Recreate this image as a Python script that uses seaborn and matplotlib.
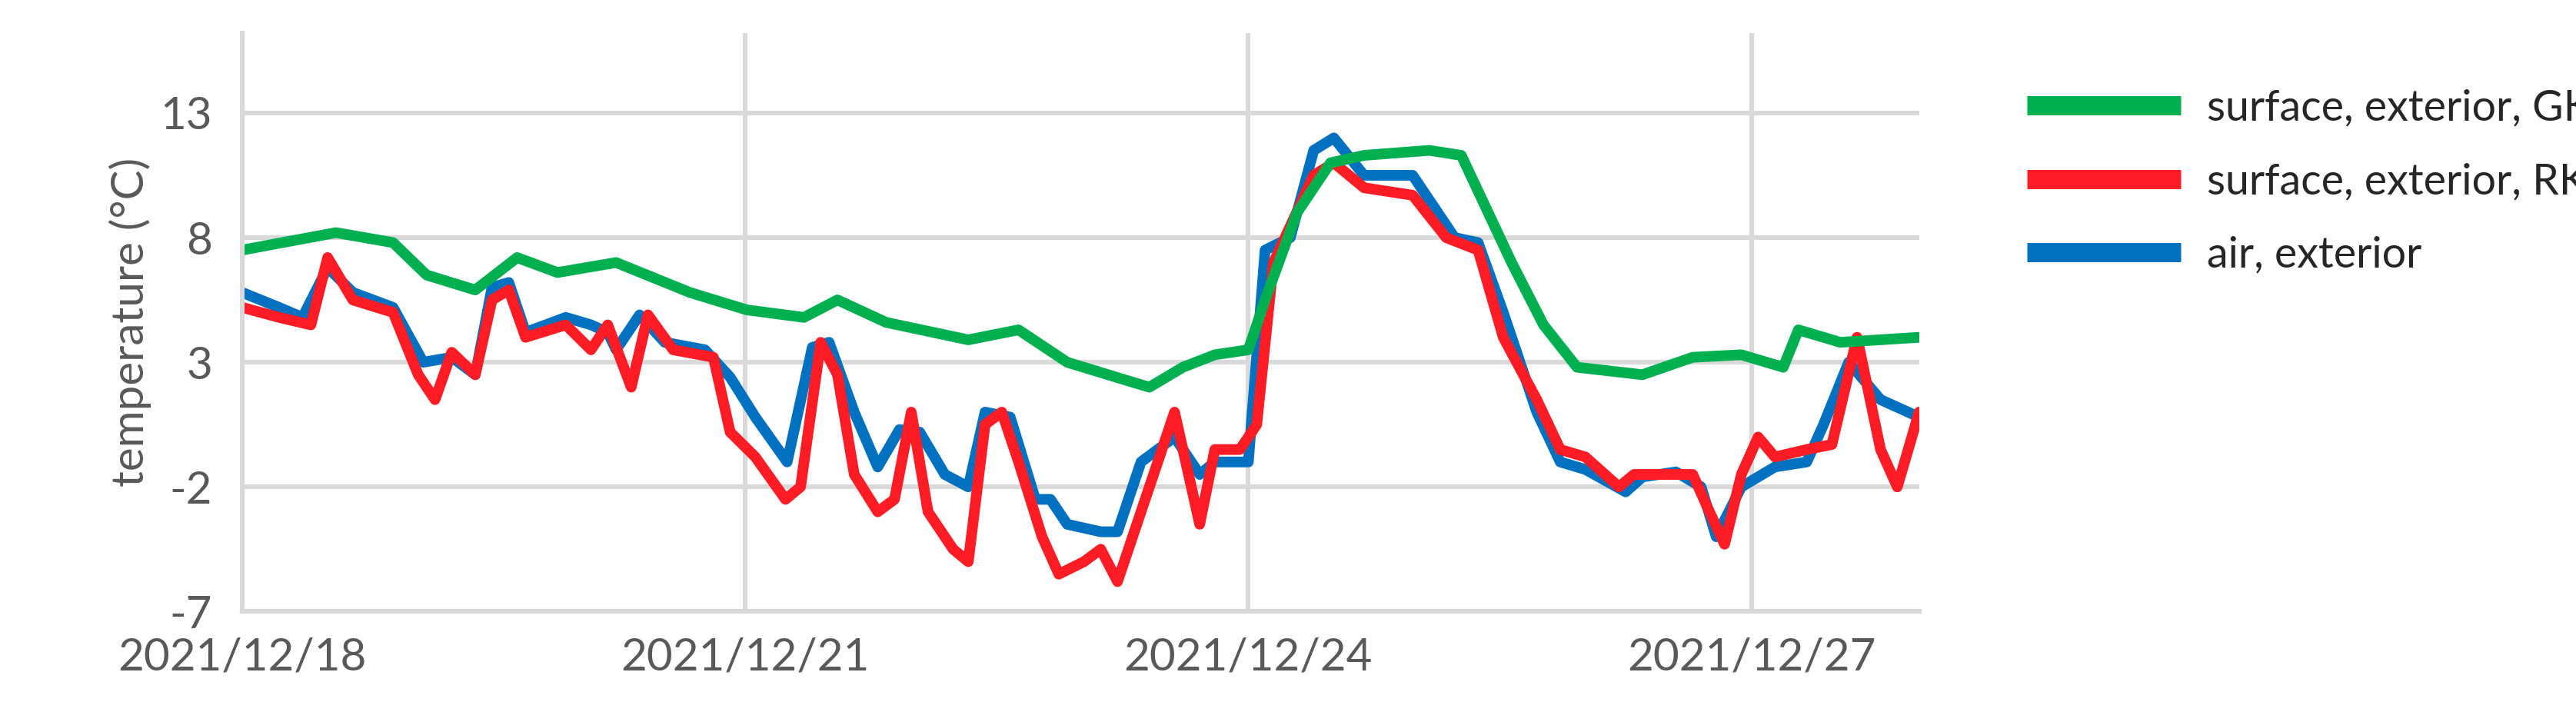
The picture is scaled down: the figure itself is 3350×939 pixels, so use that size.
import numpy as np
import pandas as pd
import matplotlib
matplotlib.use("Agg")
import matplotlib.pyplot as plt
import matplotlib.dates as mdates
import seaborn as sns

sns.set_style("white")
plt.rcParams['font.family'] = ['Lato', 'DejaVu Sans']
plt.rcParams['axes.unicode_minus'] = False

start = pd.Timestamp("2021-12-18")

# days since 2021/12/18, temperature (°C)
gk_days = [0, 0.56, 0.9, 1.1, 1.39, 1.64, 1.88, 2.23, 2.67, 3.01, 3.35, 3.55, 3.84, 4.33, 4.63,
           4.92, 5.31, 5.41, 5.61, 5.8, 6.0, 6.1, 6.29, 6.49, 6.69, 7.08, 7.27, 7.57, 7.76, 7.96,
           8.35, 8.65, 8.94, 9.19, 9.28, 9.53, 10]
gk_temp = [7.5, 8.2, 7.8, 6.5, 5.9, 7.2, 6.6, 7.0, 5.8, 5.1, 4.8, 5.5, 4.6, 3.9, 4.3,
           3.0, 2.2, 2.0, 2.8, 3.3, 3.5, 5.5, 9.0, 11.0, 11.3, 11.5, 11.3, 7.0, 4.5, 2.8,
           2.5, 3.2, 3.3, 2.8, 4.3, 3.8, 4.0]

air_days = [0, .22, .36, .51, .66, .9, 1.08, 1.25, 1.39, 1.49, 1.59, 1.69, 1.93, 2.08, 2.18,
            2.23, 2.37, 2.52, 2.76, 2.91, 3.06, 3.25, 3.4, 3.5, 3.65, 3.79, 3.92, 4.04, 4.19,
            4.33, 4.43, 4.58, 4.73, 4.82, 4.92, 5.12, 5.22, 5.36, 5.56, 5.71, 5.8, 6.0, 6.1,
            6.25, 6.39, 6.51, 6.69, 6.98, 7.23, 7.37, 7.52, 7.72, 7.86, 8.01, 8.25, 8.35, 8.55,
            8.7, 8.79, 8.94, 9.14, 9.33, 9.43, 9.58, 9.77, 10]
air_temp = [5.8, 5.2, 4.8, 6.8, 5.8, 5.2, 3.0, 3.2, 2.5, 6.0, 6.2, 4.2, 4.8, 4.5, 4.2,
            3.5, 4.9, 3.8, 3.5, 2.4, 0.8, -1.0, 3.6, 3.8, 1.0, -1.2, 0.3, 0.2, -1.5,
            -2.0, 1.0, 0.8, -2.5, -2.5, -3.5, -3.8, -3.8, -1.0, 0.0, -1.5, -1.0, -1.0, 7.5,
            8.0, 11.5, 12.0, 10.5, 10.5, 8.0, 7.8, 5.0, 1.0, -1.0, -1.3, -2.2, -1.6, -1.4,
            -2.0, -4.0, -2.0, -1.2, -1.0, 0.5, 3.0, 1.5, 0.8]

rk_days = [0, .22, .41, .51, .66, .9, 1.05, 1.15, 1.25, 1.39, 1.49, 1.59, 1.69, 1.93, 2.08,
           2.18, 2.32, 2.42, 2.57, 2.81, 2.91, 3.06, 3.24, 3.33, 3.45, 3.55, 3.65, 3.79, 3.89,
           3.99, 4.09, 4.24, 4.33, 4.43, 4.53, 4.63, 4.77, 4.87, 5.02, 5.12, 5.22, 5.31, 5.41,
           5.56, 5.71, 5.8, 5.95, 6.05, 6.15, 6.39, 6.51, 6.69, 6.98, 7.18, 7.37, 7.52, 7.72,
           7.86, 8.01, 8.21, 8.3, 8.65, 8.75, 8.84, 8.94, 9.04, 9.14, 9.33, 9.48, 9.63, 9.77,
           9.87, 10]
rk_temp = [5.2, 4.8, 4.5, 7.2, 5.5, 5.0, 2.5, 1.5, 3.4, 2.5, 5.5, 5.9, 4.0, 4.5, 3.5,
           4.5, 2.0, 4.9, 3.5, 3.2, 0.2, -0.8, -2.5, -2.0, 3.8, 2.5, -1.5, -3.0, -2.5,
           1.0, -3.0, -4.5, -5.0, 0.5, 1.0, -1.0, -4.0, -5.5, -5.0, -4.5, -5.8, -4.0, -2.0,
           1.0, -3.5, -0.5, -0.5, 0.5, 7.0, 10.5, 11.0, 10.0, 9.7, 8.0, 7.5, 4.0, 1.5,
           -0.5, -0.8, -2.0, -1.5, -1.5, -3.0, -4.3, -1.5, 0.0, -0.8, -0.5, -0.3, 4.0, -0.5,
           -2.0, 1.0]

def to_time(days):
    return start + pd.to_timedelta(days, unit="D")

fig = plt.figure(figsize=(16.75, 4.695), dpi=200)
ax = fig.add_axes([0.094, 0.153, 0.651, 0.801])

lw = 5
sns.lineplot(x=to_time(air_days), y=air_temp, ax=ax, color="#0070C0", lw=lw, label="air, exterior")
sns.lineplot(x=to_time(rk_days), y=rk_temp, ax=ax, color="#FF1C24", lw=lw, label="surface, exterior, RK")
sns.lineplot(x=to_time(gk_days), y=gk_temp, ax=ax, color="#00B050", lw=lw, label="surface, exterior, GK")

ax.set_xlim(start, start + pd.Timedelta(days=10))
ax.set_ylim(-7, 16.2)
ax.set_yticks([-7, -2, 3, 8, 13])
ax.xaxis.set_major_locator(mdates.DayLocator(bymonthday=[18, 21, 24, 27]))
ax.xaxis.set_major_formatter(mdates.DateFormatter("%Y/%m/%d"))
ax.grid(True, color="#D9D9D9", lw=2.2)
for s in ["top", "right"]:
    ax.spines[s].set_visible(False)
for s in ["left", "bottom"]:
    ax.spines[s].set_color("#D9D9D9")
    ax.spines[s].set_linewidth(2.2)
ax.tick_params(axis="y", length=0, labelsize=21, colors="#595959", pad=14)
ax.tick_params(axis="x", length=0, labelsize=21, colors="#595959", pad=12)
ax.set_xlabel("")
ax.set_ylabel("temperature (°C)", fontsize=21, color="#595959")

h, l = ax.get_legend_handles_labels()
ax.legend(h[::-1], l[::-1], loc="upper left", bbox_to_anchor=(0.772, 0.93),
          bbox_transform=fig.transFigure, frameon=False, fontsize=20,
          handlelength=3.6, handletextpad=0.6, labelspacing=0.8)
for line in ax.get_legend().get_lines():
    line.set_linewidth(9)
    line.set_solid_capstyle("butt")

fig.savefig("out.png", dpi=200)
